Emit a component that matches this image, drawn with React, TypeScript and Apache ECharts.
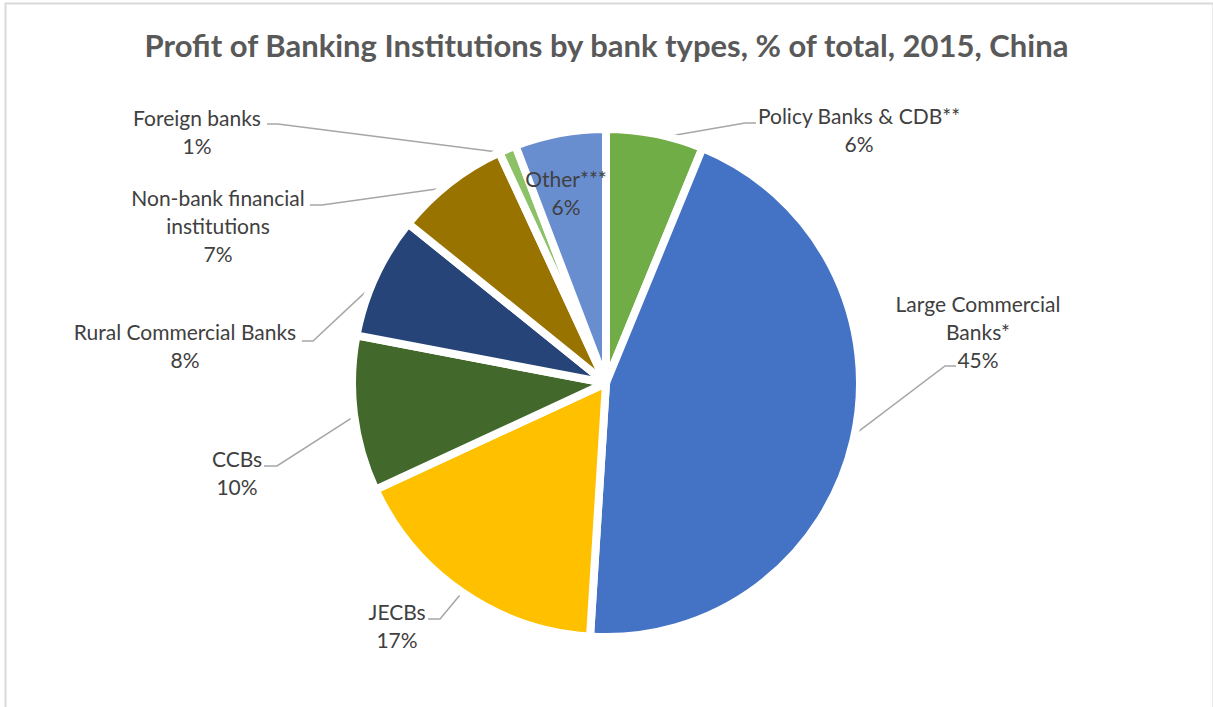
import { useEffect, useRef } from "react";
import * as echarts from "echarts";

// ---- data ----
const categories = [
  "Policy Banks & CDB**",
  "Large Commercial Banks*",
  "JECBs",
  "CCBs",
  "Rural Commercial Banks",
  "Non-bank financial institutions",
  "Foreign banks",
  "Other***",
];
const labelTexts = [
  "Policy Banks & CDB**",
  "Large Commercial\nBanks*",
  "JECBs",
  "CCBs",
  "Rural Commercial Banks",
  "Non-bank financial\ninstitutions",
  "Foreign banks",
  "Other***",
];
const shares = [6.2, 44.8, 17.1, 9.9, 7.8, 7.3, 1.1, 5.8];
const colors = ["#70AD47", "#4472C4", "#FFC000", "#43682B", "#264478", "#997300", "#8CC168", "#698ED0"];
const titleText = "Profit of Banking Institutions by bank types, % of total, 2015, China";

// ---- layout (positions only) ----
const CX = 606;
const CY = 383;
const R = 254;
const labelPos: [number, number][] = [
  [859, 129],
  [978, 331],
  [397, 625],
  [237, 472],
  [185, 345],
  [218, 225],
  [197, 131],
  [566, 192],
];
const lineJoints: ([number, number][] | null)[] = [
  [[745, 123], [756, 123]],
  [[945, 366], [956, 366]],
  [[440, 619], [428, 619]],
  [[277, 466], [264, 466]],
  [[313, 341], [302, 341]],
  [[322, 205], [310, 205]],
  [[278, 124], [267, 124]],
  null,
];

export default function App() {
  const ref = useRef<HTMLDivElement>(null);
  useEffect(() => {
    if (!ref.current) return;
    const chart = echarts.init(ref.current, undefined, { renderer: "svg" });
    const total = shares.reduce((a, b) => a + b, 0);
    const midAngles: number[] = [];
    let cum = 0;
    shares.forEach((v) => {
      midAngles.push(((cum + v / 2) / total) * Math.PI * 2);
      cum += v;
    });
    const option: any = {
      animation: false,
      backgroundColor: "#ffffff",
      title: {
        text: titleText,
        left: "center",
        top: 24,
        textStyle: { fontFamily: "Lato", fontWeight: "bold", fontSize: 31, color: "#595959" },
      },
      graphic: [
        {
          type: "rect",
          left: 3,
          top: 1,
          shape: { x: 0, y: 0, width: 1208, height: 800 },
          style: { fill: "none", stroke: "#D9D9D9", lineWidth: 2 },
          silent: true,
        },
      ],
      series: [
        {
          type: "pie",
          center: [CX, CY],
          radius: [0, R],
          startAngle: 90,
          clockwise: true,
          avoidLabelOverlap: false,
          silent: true,
          emphasis: { disabled: true },
          itemStyle: { borderColor: "#ffffff", borderWidth: 8 },
          label: {
            show: true,
            position: "outside",
            fontFamily: "Lato",
            fontSize: 21,
            lineHeight: 28,
            color: "#404040",
            align: "center",
            formatter: (p: any) => `${labelTexts[p.dataIndex]}\n${Math.round(p.value)}%`,
          },
          labelLine: { show: true, lineStyle: { color: "#A6A6A6", width: 1.5 } },
          labelLayout: (params: any) => {
            const i = params.dataIndex;
            const a = midAngles[i];
            const rs = R - 5;
            const start = [CX + rs * Math.sin(a), CY - rs * Math.cos(a)];
            const res: any = {
              x: labelPos[i][0],
              y: labelPos[i][1],
              align: "center",
              verticalAlign: "middle",
            };
            const j = lineJoints[i];
            if (j) res.labelLinePoints = [start, j[0], j[1]];
            return res;
          },
          data: categories.map((name, i) => ({
            name,
            value: shares[i],
            itemStyle: { color: colors[i] },
            labelLine: i === 7 ? { show: false } : undefined,
          })),
        },
      ],
    };
    chart.setOption(option);
    return () => chart.dispose();
  }, []);
  return (
    <div
      ref={ref}
      style={{ position: "fixed", left: 0, top: 0, width: 1213, height: 707, background: "#fff" }}
    />
  );
}
